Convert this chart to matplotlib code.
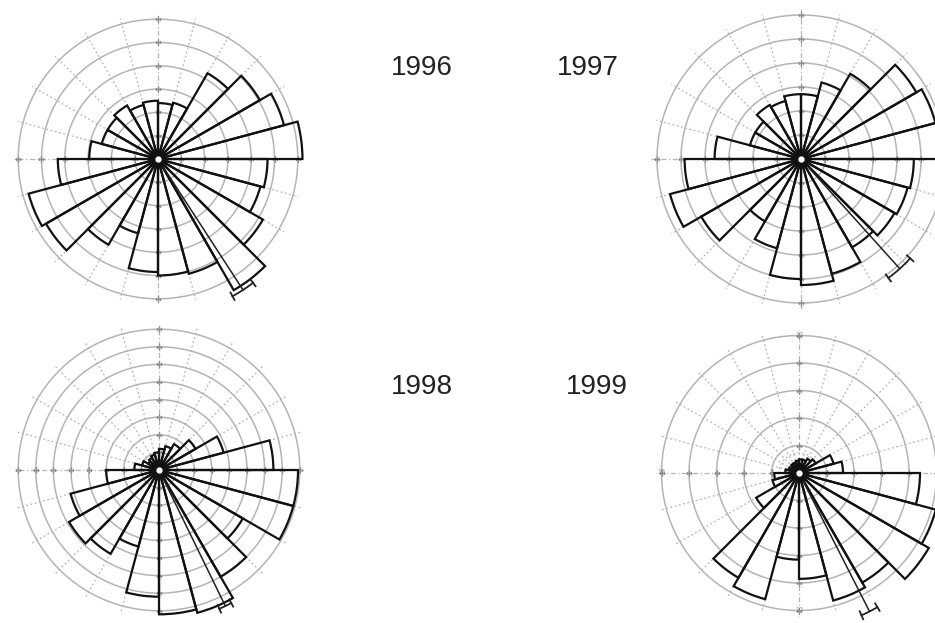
import numpy as np
import matplotlib.pyplot as plt

plt.rcParams['font.family'] = ['Liberation Sans', 'DejaVu Sans']

years = ['1996', '1997', '1998', '1999']

# sector lengths (15 degree bins, counter-clockwise from east), in ring units
r1996 = [6.2, 5.6, 5.05, 4.25, 2.5, 2.4, 2.5, 2.4, 2.65, 2.5, 2.5, 2.95,
         4.3, 5.75, 5.55, 4.25, 3.3, 4.85, 5.0, 5.1, 6.5, 5.2, 4.55, 4.7]
r1997 = [6.3, 5.8, 5.55, 4.1, 3.3, 2.7, 2.7, 2.5, 2.6, 2.2, 2.2, 3.6,
         4.85, 5.65, 4.8, 3.0, 3.85, 5.0, 5.25, 4.95, 4.25, 4.5, 4.6, 4.7]
r1998 = [6.5, 3.8, 2.4, 1.7, 1.4, 1.2, 1.0, 0.9, 0.8, 0.7, 1.0, 1.4,
         3.0, 5.2, 5.9, 5.5, 4.5, 7.2, 8.2, 8.4, 7.0, 5.5, 7.9, 7.9]
# 1999 panel is labelled in counts (rings 2..10)
r1999 = [3.2, 2.6, 1.4, 1.2, 1.0, 1.0, 0.9, 0.8, 0.8, 0.7, 0.8, 1.0,
         1.8, 2.0, 3.6, 8.8, 9.5, 6.3, 7.7, 9.6, 9.2, 10.9, 10.3, 8.8]

# mean direction (deg), mean vector length, confidence half-width (deg)
mean_dir = [303, 312, 296, 297]
mean_len = [6.7, 6.15, 8.6, 11.3]
ci_half = [4.5, 5.7, 2.5, 3.3]

rings = [[1, 2, 3, 4, 5, 6], [1, 2, 3, 4, 5, 6],
         [1, 2, 3, 4, 5, 6, 7, 8], [2, 4, 6, 8, 10]]

W, H = 935, 623
fig = plt.figure(figsize=(W / 100, H / 100), dpi=100)

# center x, center y (from top), px per unit, axis radius in units
layout = [(158, 159, 23.3, 7.2), (801, 159, 24.0, 7.2),
          (159, 470, 17.6, 9.2), (799, 473, 13.75, 12.5)]

grid_c = '#b4b4b4'
for k in range(4):
    cx, cy, u, rmax = layout[k]
    h = rmax * u
    ax = fig.add_axes([(cx - h) / W, 1 - (cy + h) / H, 2 * h / W, 2 * h / H],
                      projection='polar')
    ax.set_ylim(0, rmax)
    ax.set_axis_off()
    R = rings[k][-1]

    th = np.linspace(0, 2 * np.pi, 400)
    for rr in rings[k]:
        ax.plot(th, np.full_like(th, rr), color=grid_c, lw=1.1, zorder=1)
    for a in range(0, 360, 15):
        t = np.deg2rad(a)
        ls = (0, (4, 2, 1, 2)) if a % 90 == 0 else (0, (1.5, 2))
        ax.plot([t, t], [0, R * 1.04], color=grid_c, lw=0.9, ls=ls, zorder=1)
    for a in (0, 90, 180, 270):
        ax.plot(np.full(len(rings[k]), np.deg2rad(a)), rings[k], ls='none',
                marker='+', ms=5, mew=1.0, color='#909090', zorder=2)

    vals = [r1996, r1997, r1998, r1999][k]
    theta = np.deg2rad(np.arange(0, 360, 15))
    ax.bar(theta, vals, width=np.deg2rad(15), align='edge', bottom=0,
           fill=False, edgecolor='#111111', lw=1.6, zorder=3)

    # mean direction with confidence arc
    md = np.deg2rad(mean_dir[k])
    ax.plot([md, md], [0, mean_len[k]], color='#222222', lw=1.1, zorder=4)
    ca = np.deg2rad(np.linspace(mean_dir[k] - ci_half[k], mean_dir[k] + ci_half[k], 20))
    ax.plot(ca, np.full_like(ca, mean_len[k]), color='#222222', lw=1.3, zorder=4)
    d = 0.025 * rmax
    for e in (ca[0], ca[-1]):
        ax.plot([e, e], [mean_len[k] - d, mean_len[k] + d], color='#222222', lw=1.3, zorder=4)

    # dark hub where the sector edges meet, small white hole in the middle
    ax.plot([0], [0], marker='o', ms=11, color='#111111', zorder=5)
    ax.plot([0], [0], marker='o', ms=3.5, color='white', mec='white', zorder=6)

    if k == 3:
        for a in (90, 180, 270):
            ax.text(np.deg2rad(a), 10, '10', fontsize=5, color='#888888',
                    ha='center', va='center', zorder=2)
        ax.text(np.pi, 2, '2', fontsize=5, color='#888888', ha='center',
                va='center', zorder=2)
        ci = np.linspace(0, 2 * np.pi, 100)
        ax.plot(ci, np.full_like(ci, 1.45), color=grid_c, lw=0.9, ls=(0, (1.5, 2)), zorder=1)

label_pos = [(422, 68), (588, 68), (422, 387), (597, 387)]
for y, (x0, y0) in zip(years, label_pos):
    fig.text(x0 / W, 1 - y0 / H, y, fontsize=20, color='#222222',
             ha='center', va='center')

fig.savefig('out.png', dpi=100, facecolor='white')
